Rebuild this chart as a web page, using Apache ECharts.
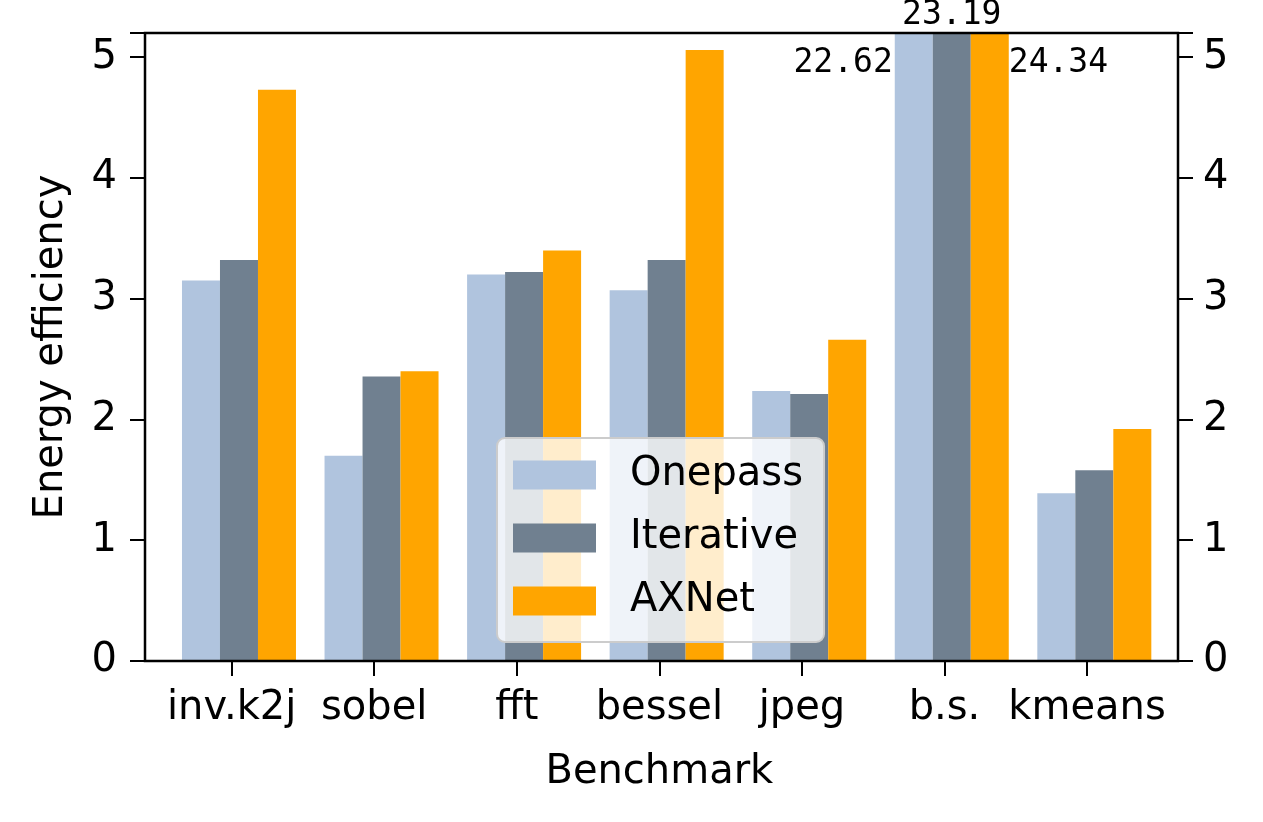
<!DOCTYPE html>
<html>
<head>
<meta charset="utf-8">
<script src="https://cdn.jsdelivr.net/npm/echarts@6/dist/echarts.min.js"></script>
<style>
html,body{margin:0;padding:0;background:#fff;}
#chart{width:1263px;height:822px;}
</style>
</head>
<body>
<div id="chart"></div>
<script>
const categories = ['inv.k2j', 'sobel', 'fft', 'bessel', 'jpeg', 'b.s.', 'kmeans'];
const onepass   = [3.15, 1.70, 3.20, 3.07, 2.235, 22.62, 1.39];
const iterative = [3.32, 2.355, 3.22, 3.32, 2.21, 23.19, 1.58];
const axnet     = [4.73, 2.40, 3.40, 5.06, 2.66, 24.34, 1.92];
const seriesNames = ['Onepass', 'Iterative', 'AXNet'];
const colors = ['#B0C4DE', '#708090', '#FFA500'];
const yTicks = [0, 1, 2, 3, 4, 5];
const yMax = 5.2;
const clippedIndex = 5; // b.s.

const FONT = 'DejaVu Sans';
const MONO = 'DejaVu Sans Mono';

function overflowLabel(pos, align) {
  return {
    show: true,
    position: pos,
    align: align,
    verticalAlign: 'middle',
    fontFamily: MONO,
    fontSize: 33,
    color: '#000',
    formatter: p => p.value.toFixed(2)
  };
}

function makeData(arr, labelCfg) {
  return arr.map((v, i) => i === clippedIndex ? { value: v, label: labelCfg } : v);
}

const chart = echarts.init(document.getElementById('chart'), null, { renderer: 'canvas' });

const option = {
  animation: false,
  backgroundColor: '#fff',
  textStyle: { fontFamily: FONT },
  grid: [
    { left: 145, right: 85, top: 33, bottom: 161, show: true, borderColor: '#000', borderWidth: 2.5, backgroundColor: 'transparent', z: 5 },
    { left: 160.4, right: 104.7, top: 33, bottom: 161 }
  ],
  xAxis: [
    { gridIndex: 0, type: 'value', min: 0, max: 1, show: false },
    {
      gridIndex: 1, type: 'category', data: categories,
      axisLine: { show: false },
      axisTick: { show: true, alignWithLabel: true, length: 15, lineStyle: { color: '#000', width: 2 } },
      axisLabel: { color: '#000', fontSize: 40, fontFamily: FONT, margin: 28, interval: 0 },
      name: 'Benchmark', nameLocation: 'middle', nameGap: 92,
      nameTextStyle: { color: '#000', fontSize: 40, fontFamily: FONT }
    }
  ],
  yAxis: [
    {
      gridIndex: 0, type: 'value', position: 'left', min: 0, max: yMax, interval: 1,
      axisLine: { show: false },
      axisTick: { show: true, length: 15, lineStyle: { color: '#000', width: 2 } },
      axisLabel: { color: '#000', fontSize: 40, fontFamily: FONT, margin: 28,
        formatter: v => yTicks.includes(v) ? String(v) : '' },
      splitLine: { show: false },
      name: 'Energy efficiency', nameLocation: 'middle', nameGap: 73,
      nameTextStyle: { color: '#000', fontSize: 40, fontFamily: FONT }
    },
    {
      gridIndex: 0, type: 'value', position: 'right', min: 0, max: yMax, interval: 1,
      axisLine: { show: false },
      axisTick: { show: true, length: 15, lineStyle: { color: '#000', width: 2 } },
      axisLabel: { color: '#000', fontSize: 40, fontFamily: FONT, margin: 25,
        formatter: v => yTicks.includes(v) ? String(v) : '' },
      splitLine: { show: false }
    },
    { gridIndex: 1, type: 'value', min: 0, max: yMax, show: false }
  ],
  legend: {
    data: seriesNames,
    orient: 'vertical',
    left: 497, top: 438,
    padding: [17, 21, 21, 16],
    itemWidth: 83, itemHeight: 29, itemGap: 23,
    icon: 'rect',
    backgroundColor: 'rgba(255,255,255,0.8)',
    borderColor: '#cccccc', borderWidth: 2, borderRadius: 8,
    textStyle: { color: '#000', fontSize: 40, fontFamily: FONT, padding: [0, 0, 0, 29] },
    z: 10
  },
  series: [
    { name: '_spacer', type: 'bar', xAxisIndex: 1, yAxisIndex: 2, data: categories.map(() => 0),
      barWidth: 14.6, barGap: '0%', itemStyle: { color: 'rgba(0,0,0,0)' }, silent: true },
    { name: seriesNames[0], type: 'bar', xAxisIndex: 1, yAxisIndex: 2, barWidth: 38, barGap: '0%',
      itemStyle: { color: colors[0] }, data: makeData(onepass, overflowLabel([-2, 30], 'right')) },
    { name: seriesNames[1], type: 'bar', xAxisIndex: 1, yAxisIndex: 2, barWidth: 38, barGap: '0%',
      itemStyle: { color: colors[1] }, data: makeData(iterative, overflowLabel(['50%', -18], 'center')) },
    { name: seriesNames[2], type: 'bar', xAxisIndex: 1, yAxisIndex: 2, barWidth: 38, barGap: '0%',
      itemStyle: { color: colors[2] }, data: makeData(axnet, overflowLabel(['100%', 30], 'left')) }
  ]
};
chart.setOption(option);
</script>
</body>
</html>
